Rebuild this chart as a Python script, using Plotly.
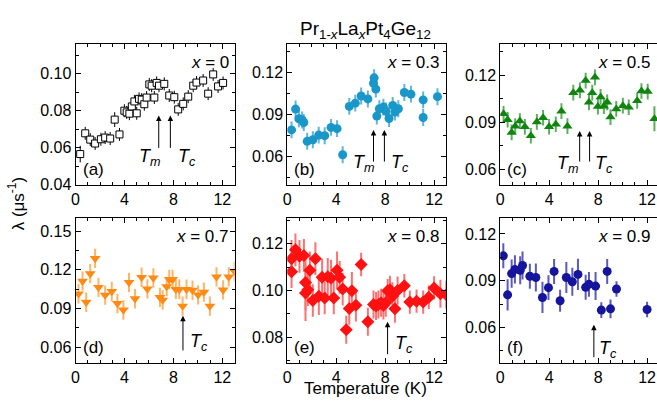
import plotly.graph_objects as go

# ---------------- data ----------------
T_a = [0.38,0.79,1.2,1.6,2.07,2.42,2.83,3.2,3.59,3.99,4.18,4.4,4.6,4.81,5.0,5.19,5.41,5.62,5.81,6.03,6.22,6.44,6.63,6.82,7.25,7.66,8.07,8.39,8.8,9.21,9.62,9.89,10.43,10.84,11.25,11.65,12.06]
L_a = [0.0566,0.0678,0.0644,0.0623,0.0646,0.0655,0.065,0.0752,0.0672,0.080,0.0791,0.0784,0.0823,0.085,0.0786,0.0864,0.086,0.0835,0.0871,0.0942,0.0935,0.0871,0.095,0.0935,0.0945,0.0882,0.0873,0.0807,0.0837,0.0876,0.0935,0.0952,0.0963,0.0892,0.0996,0.0931,0.095]
E_a = [0.0045,0.0035,0.0035,0.0035,0.0035,0.0035,0.0035,0.004,0.0035,0.0035,0.0035,0.0035,0.0035,0.0035,0.0035,0.0035,0.0035,0.0035,0.0035,0.0035,0.0035,0.0035,0.0035,0.0035,0.0035,0.0035,0.0035,0.0035,0.0035,0.0035,0.0035,0.0035,0.0035,0.0035,0.0035,0.0035,0.0035]

T_b = [0.35,0.68,0.95,1.22,1.35,1.63,2.09,2.57,3.06,3.58,4.07,4.53,5.07,5.56,6.04,6.59,7.05,7.1,7.24,7.32,7.53,7.86,8.07,8.32,8.62,8.8,9.08,9.57,10.11,11.11,11.11,12.28]
L_b = [0.079,0.0938,0.0869,0.086,0.0843,0.0709,0.072,0.0753,0.0749,0.0808,0.0799,0.0614,0.0957,0.098,0.1031,0.101,0.1121,0.116,0.108,0.0888,0.094,0.0952,0.0924,0.0871,0.0964,0.0917,0.094,0.1056,0.1044,0.1003,0.0878,0.1026]
E_b = [0.006,0.006,0.006,0.006,0.006,0.006,0.006,0.006,0.006,0.006,0.006,0.006,0.006,0.006,0.006,0.006,0.006,0.006,0.006,0.006,0.006,0.006,0.006,0.006,0.006,0.006,0.006,0.006,0.006,0.006,0.006,0.006]

T_c = [0.27,0.6,0.93,1.22,1.6,2.01,2.5,2.99,3.5,3.99,4.54,5.0,5.49,5.97,6.51,6.98,7.25,7.52,7.74,7.98,8.2,8.47,8.74,9.01,9.48,10.02,10.5,11.19,11.54,12.05,12.6]
L_c = [0.0954,0.0916,0.0835,0.0875,0.0908,0.0871,0.0814,0.0902,0.0929,0.0871,0.0887,0.0971,0.0875,0.1089,0.1104,0.1166,0.1027,0.1089,0.1187,0.100,0.1062,0.1002,0.1027,0.0933,0.0985,0.1006,0.0996,0.1037,0.11,0.1096,0.0923]
E_c = [0.005,0.005,0.005,0.005,0.005,0.005,0.005,0.005,0.005,0.005,0.005,0.005,0.005,0.005,0.005,0.005,0.005,0.005,0.005,0.005,0.005,0.005,0.005,0.005,0.005,0.005,0.005,0.005,0.005,0.005,0.008]

T_d = [0.24,0.57,0.87,1.2,1.6,1.87,2.42,2.96,3.42,3.91,4.37,4.86,5.4,5.87,6.36,6.9,7.12,7.45,7.66,7.93,8.2,8.48,8.75,9.07,9.56,10.02,10.49,10.98,11.52,12.06,12.52,13.0]
L_d = [0.1014,0.1112,0.0949,0.117,0.1288,0.1064,0.1004,0.1032,0.0939,0.0889,0.1102,0.0976,0.1142,0.1052,0.1137,0.0986,0.0966,0.107,0.1125,0.1125,0.1049,0.1049,0.0919,0.1049,0.1042,0.1006,0.1027,0.0919,0.1145,0.1044,0.1145,0.1187]
E_d = [0.0075,0.0075,0.0075,0.0075,0.0075,0.0075,0.0075,0.0075,0.0075,0.0075,0.0075,0.0075,0.0075,0.0075,0.0075,0.0075,0.0075,0.0075,0.0075,0.0075,0.0075,0.0075,0.0075,0.0075,0.0075,0.0075,0.0075,0.0075,0.0075,0.0075,0.0075,0.0075]

T_e = [0.35,0.35,0.67,1.0,1.36,1.49,1.49,1.68,1.85,2.09,2.3,2.58,2.85,3.06,3.31,3.58,3.8,4.07,4.28,4.53,4.82,5.07,5.28,5.61,6.04,6.59,7.05,7.26,7.45,7.67,7.86,8.05,8.21,8.4,8.59,8.8,9.02,9.57,10.02,10.57,11.11,11.57,12.0,12.52,13.0]
L_e = [0.108,0.1136,0.1174,0.1146,0.115,0.1034,0.0989,0.1003,0.1087,0.0957,0.1136,0.0975,0.1056,0.0968,0.1059,0.1052,0.0968,0.1087,0.1056,0.1006,0.0832,0.0923,0.0999,0.0937,0.1111,0.0866,0.094,0.0933,0.094,0.0947,0.0936,0.0947,0.0999,0.1003,0.0975,0.0922,0.1,0.102,0.095,0.0954,0.095,0.0971,0.1011,0.0986,0.0982]
E_e = [0.007,0.008,0.007,0.007,0.007,0.012,0.012,0.007,0.008,0.007,0.007,0.008,0.008,0.007,0.008,0.008,0.007,0.008,0.007,0.007,0.006,0.007,0.008,0.007,0.005,0.006,0.006,0.006,0.006,0.006,0.006,0.006,0.005,0.006,0.006,0.006,0.006,0.005,0.005,0.005,0.005,0.005,0.005,0.006,0.006]

T_f = [0.25,0.6,0.93,1.2,1.63,1.82,2.42,2.91,3.45,3.94,4.4,4.89,5.4,5.89,6.35,6.98,7.25,7.79,8.26,8.74,9.01,9.5,12.0]
L_f = [0.106,0.081,0.0946,0.0973,0.0967,0.0998,0.0929,0.0921,0.0793,0.0856,0.096,0.0772,0.0921,0.0894,0.0941,0.0858,0.0877,0.0866,0.0712,0.096,0.072,0.0847,0.0716]
E_f = [0.008,0.01,0.009,0.009,0.009,0.009,0.008,0.009,0.01,0.008,0.008,0.007,0.01,0.009,0.01,0.008,0.008,0.009,0.005,0.008,0.006,0.005,0.005]

Tm = {"a": 6.8, "b": 7.05, "c": 6.49}
Tc = {"a": 7.75, "b": 7.94, "c": 7.3, "d": 8.78, "e": 8.2, "f": 7.65}
conc = {"a": "0", "b": "0.3", "c": "0.5", "d": "0.7", "e": "0.8", "f": "0.9"}

# ---------------- layout helpers ----------------
W, H = 657, 408
def px(x): return x / W
def py(y): return 1 - y / H

FONT = "Liberation Sans, Arial, sans-serif"

panels = [
    ("a", T_a, L_a, E_a, "square", 7, "black", "black", 1, "white", (72, 232), (45, 189), (0.04, 0.116), 0.02),
    ("b", T_b, L_b, E_b, "circle", 9, "#1a97c9", "#5db6de", 2, None, (285, 445), (45, 189), (0.04, 0.14), 0.03),
    ("c", T_c, L_c, E_c, "triangle-up", 9, "#0f850f", "#5fae5f", 2, None, (499.3, 657), (45, 189), (0.05, 0.14), 0.03),
    ("d", T_d, L_d, E_d, "triangle-down", 9.5, "#ff8a14", "#ffb466", 2, None, (72, 232), (223, 371), (0.048, 0.16), 0.03),
    ("e", T_e, L_e, E_e, "diamond", 10, "#ff1111", "#ff7070", 2, None, (285, 445), (223, 371), (0.069, 0.131), 0.02),
    ("f", T_f, L_f, E_f, "circle", 9, "#14149c", "#5a5abc", 2, None, (499.3, 657), (223, 371), (0.0374, 0.1302), 0.03),
]

fig = go.Figure()
layout = dict(
    width=W, height=H, margin=dict(l=0, r=0, t=0, b=0),
    paper_bgcolor="white", plot_bgcolor="white", showlegend=False,
    font=dict(family=FONT, size=16, color="black"),
)
annotations = []

for i, (key, T, L, E, sym, size, col, ecol, ew, fill, xd, yd, yr, dt) in enumerate(panels, start=1):
    xa = "x" if i == 1 else f"x{i}"
    ya = "y" if i == 1 else f"y{i}"
    marker = dict(symbol=sym, size=size, color=col if fill is None else fill,
                  line=dict(color=col, width=1 if fill else 0))
    fig.add_trace(go.Scatter(
        x=T, y=L, mode="markers", xaxis=xa, yaxis=ya, marker=marker,
        error_y=dict(type="data", array=E, visible=True, color=ecol, thickness=ew, width=0),
    ))
    clipped = xd[1] >= W
    xmax = 13 if not clipped else (W - xd[0]) / 12.31
    axcommon = dict(showline=True, linecolor="black", linewidth=1, showgrid=False, zeroline=False,
                    ticks="inside", ticklen=5, tickcolor="black", tickfont=dict(size=16, family=FONT))
    layout["xaxis" if i == 1 else f"xaxis{i}"] = dict(
        axcommon, domain=[px(xd[0]), px(xd[1])], range=[0, xmax], anchor=ya,
        tick0=0, dtick=4, mirror="allticks",
        minor=dict(dtick=1, ticks="inside", ticklen=3, tickcolor="black"),
    )
    layout["yaxis" if i == 1 else f"yaxis{i}"] = dict(
        axcommon, domain=[py(yd[1]), py(yd[0])], range=list(yr), anchor=xa,
        tick0=0, dtick=dt, tickformat=".2f", mirror=(False if clipped else "allticks"),
        minor=dict(dtick=dt / 2, ticks="inside", ticklen=3, tickcolor="black"),
    )
    right = min(xd[1], W) - 6
    annotations.append(dict(xref="paper", yref="paper", x=px(right + 2), y=py(yd[0] + 19),
                            text=f"<i>x</i> = {conc[key]}", showarrow=False,
                            xanchor="right", yanchor="middle", font=dict(size=17)))
    annotations.append(dict(xref="paper", yref="paper", x=px(xd[0] + 5), y=py(yd[1] - 16),
                            text=f"({key})", showarrow=False,
                            xanchor="left", yanchor="middle", font=dict(size=17)))

def arrow(xa, T, ytop, length):
    annotations.append(dict(xref=xa, yref="paper", x=T, y=py(ytop), ax=0, ay=length,
                            axref="pixel", ayref="pixel", text="", showarrow=True,
                            arrowhead=2, arrowsize=1.1, arrowwidth=1, arrowcolor="black"))

def tlabel(x, y, sub, anchor):
    annotations.append(dict(xref="paper", yref="paper", x=px(x), y=py(y),
                            text=f"<i>T</i><sub><i>{sub}</i></sub>", showarrow=False,
                            xanchor=anchor, yanchor="middle", font=dict(size=18)))

arrow("x", Tm["a"], 118, 34); arrow("x", Tc["a"], 118, 34)
tlabel(160, 161, "m", "right"); tlabel(173, 161, "c", "left")
arrow("x2", Tm["b"], 133, 33); arrow("x2", Tc["b"], 133, 33)
tlabel(375, 167, "m", "right"); tlabel(387, 167, "c", "left")
arrow("x3", Tm["c"], 134, 32); arrow("x3", Tc["c"], 134, 32)
tlabel(581, 168, "m", "right"); tlabel(593, 168, "c", "left")
arrow("x4", Tc["d"], 323, 36)
tlabel(185, 350, "c", "left")
arrow("x5", Tc["e"], 329, 34)
tlabel(391, 352, "c", "left")
arrow("x6", Tc["f"], 332, 34)
tlabel(597, 357, "c", "left")

annotations.append(dict(xref="paper", yref="paper", x=px(364), y=py(31),
                        text="Pr<sub>1-<i>x</i></sub>La<sub><i>x</i></sub>Pt<sub>4</sub>Ge<sub>12</sub>",
                        showarrow=False, xanchor="center", yanchor="middle", font=dict(size=19)))
annotations.append(dict(xref="paper", yref="paper", x=px(364), y=0, borderpad=0,
                        text="Temperature (K)", showarrow=False,
                        xanchor="center", yanchor="bottom", font=dict(size=17)))
annotations.append(dict(xref="paper", yref="paper", x=px(13), y=py(208),
                        text="λ (μs<sup>-1</sup>)", showarrow=False, textangle=-90,
                        xanchor="center", yanchor="middle", font=dict(size=17)))

layout["annotations"] = annotations
fig.update_layout(**layout)
fig.write_html("out.html")
